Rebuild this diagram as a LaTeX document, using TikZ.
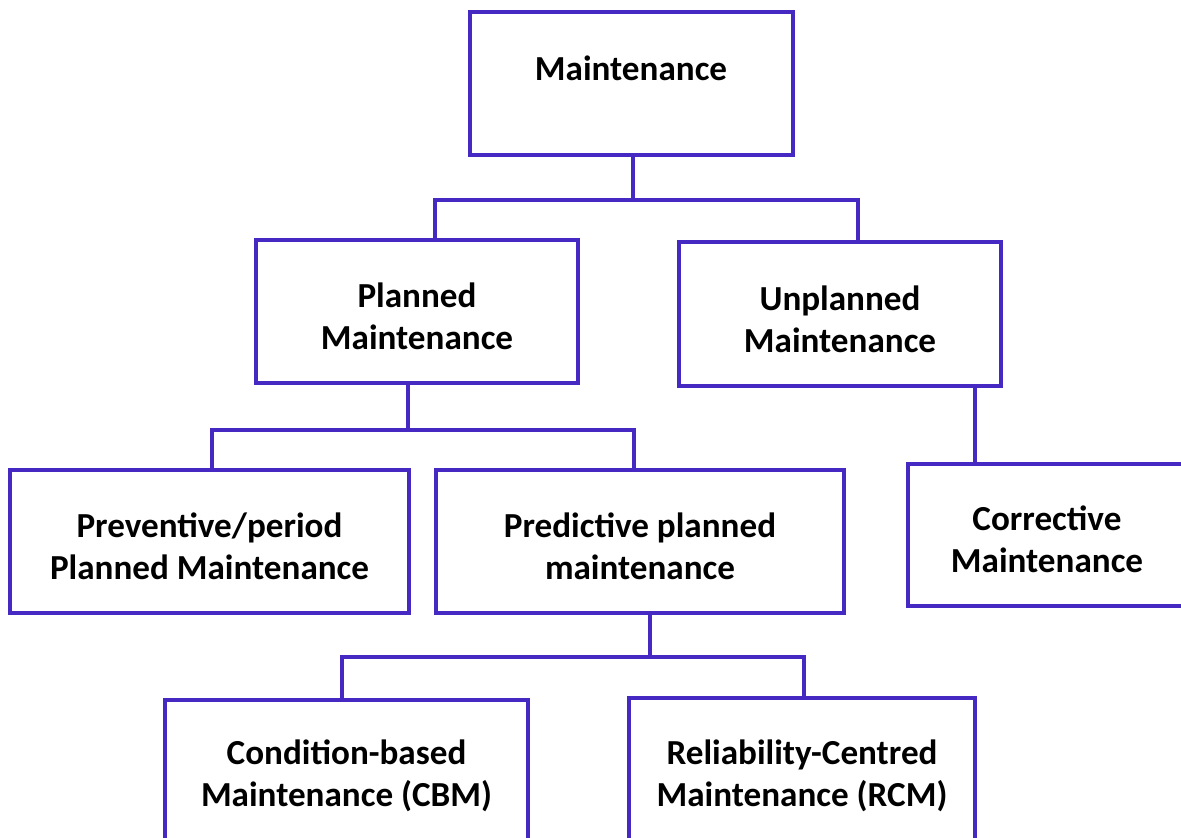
\documentclass[tikz,border=0pt]{standalone}
\usepackage{fontspec}
\setmainfont{Carlito}
\definecolor{boxline}{RGB}{70,40,195}
\begin{document}
\begin{tikzpicture}[x=0.02cm,y=-0.02cm,
  box/.style={draw=boxline,line width=2.3pt,rectangle,inner sep=0pt},
  txt/.style={align=center,inner sep=0pt,yshift=-0.1cm,
    font=\fontsize{20}{24}\selectfont\bfseries,text=black},
  conn/.style={draw=boxline,line width=2.3pt}]
\useasboundingbox (0,0) rectangle (1181,838);
\clip (0,0) rectangle (1181,838);
\node[box,minimum width=323*0.02cm,minimum height=143*0.02cm] (m) at (631.5,83.5) {};
\node[txt,yshift=0.1cm] (mt) at (631,68) {Maintenance};
\node[box,minimum width=322*0.02cm,minimum height=143*0.02cm,
  label={[txt]center:{Planned\\Maintenance}}] (p) at (417,311.5) {};
\node[box,minimum width=322*0.02cm,minimum height=144*0.02cm,
  label={[txt]center:{Unplanned\\Maintenance}}] (u) at (840,314) {};
\node[box,minimum width=399*0.02cm,minimum height=143*0.02cm,
  label={[txt]center:{Preventive/period\\Planned Maintenance}}] (pv) at (209.5,541.5) {};
\node[box,minimum width=408*0.02cm,minimum height=143*0.02cm,
  label={[txt]center:{Predictive planned\\maintenance}}] (pd) at (640,541.5) {};
\node[box,minimum width=278*0.02cm,minimum height=142*0.02cm,
  label={[txt,yshift=0.02cm]center:{Corrective\\Maintenance}}] (c) at (1047,535) {};
\node[box,minimum width=363*0.02cm,minimum height=143*0.02cm,
  label={[txt,yshift=0.02cm]center:{Condition-based\\Maintenance (CBM)}}] (cbm) at (346.5,771.5) {};
\node[box,minimum width=346*0.02cm,minimum height=143*0.02cm,
  label={[txt,yshift=-0.02cm]center:{Reliability-Centred\\Maintenance (RCM)}}] (rcm) at (802,769.5) {};
% bus coordinates
\coordinate (b1) at (633,200);
\coordinate (x1) at (435,0);
\coordinate (x2) at (858,0);
\coordinate (b2) at (408,430);
\coordinate (x3) at (212,0);
\coordinate (x4) at (634,0);
\coordinate (x5) at (975,0);
\coordinate (b3) at (650,657);
\coordinate (x6) at (342,0);
\coordinate (x7) at (804,0);
\draw[conn] (m.south -| b1) -- (b1);
\draw[conn] (p.north -| x1) |- (b1) -| (u.north -| x2);
\draw[conn] (p.south -| b2) -- (b2);
\draw[conn] (pv.north -| x3) |- (b2) -| (pd.north -| x4);
\draw[conn] (u.south -| x5) -- (c.north -| x5);
\draw[conn] (pd.south -| b3) -- (b3);
\draw[conn] (cbm.north -| x6) |- (b3) -| (rcm.north -| x7);
\end{tikzpicture}
\end{document}
